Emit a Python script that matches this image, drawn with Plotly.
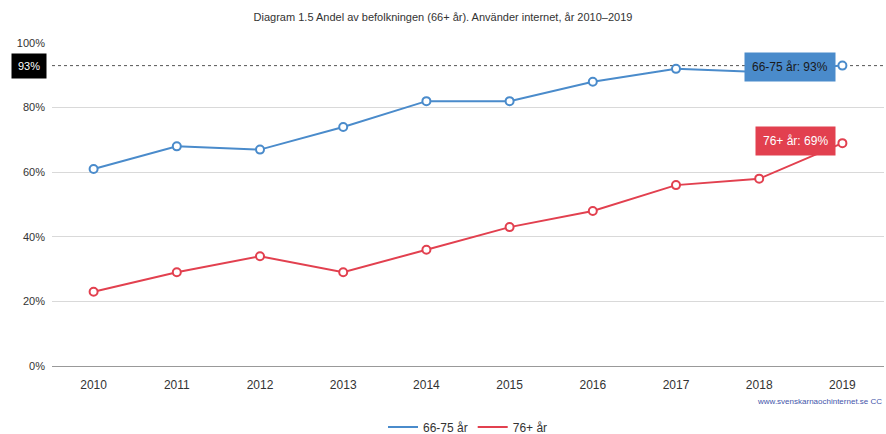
import plotly.graph_objects as go

years = ["2010", "2011", "2012", "2013", "2014", "2015", "2016", "2017", "2018", "2019"]
age_66_75 = [61, 68, 67, 74, 82, 82, 88, 92, 91, 93]
age_76_plus = [23, 29, 34, 29, 36, 43, 48, 56, 58, 69]
y_ticks = [0, 20, 40, 60, 80, 100]
y_tick_labels = ["0%", "20%", "40%", "60%", "80%", "100%"]

blue = "#4a8bcb"
red = "#e2404f"
font = "Liberation Sans, Arial, sans-serif"

fig = go.Figure()
for name, vals, col in [("66-75 år", age_66_75, blue), ("76+ år", age_76_plus, red)]:
    fig.add_trace(go.Scatter(
        x=years, y=vals, name=name, mode="lines", legendgroup=name,
        line=dict(color=col, width=2),
    ))
    fig.add_trace(go.Scatter(
        x=years, y=vals, name=name, mode="markers", legendgroup=name, showlegend=False,
        marker=dict(symbol="circle", size=8, color="white", line=dict(color=col, width=2)),
    ))

last = len(years) - 1

# crosshair line at latest 66-75 value
fig.add_shape(type="line", xref="paper", x0=0, x1=1, yref="y",
              y0=age_66_75[last], y1=age_66_75[last],
              line=dict(color="#555555", width=1, dash="dot"), layer="below")

fig.add_annotation(x=last, y=age_66_75[last], text="66-75 år: %d%%" % age_66_75[last],
                   showarrow=False, xanchor="right", xshift=-6, yshift=-1,
                   font=dict(family=font, size=12, color="#1a1a1a"),
                   bgcolor=blue, borderpad=7)
fig.add_annotation(x=last, y=age_76_plus[last], text="76+ år: %d%%" % age_76_plus[last],
                   showarrow=False, xanchor="right", xshift=-6, yshift=2,
                   font=dict(family=font, size=12, color="white"),
                   bgcolor=red, borderpad=7)
fig.add_annotation(xref="paper", x=0, y=age_66_75[last], text="%d%%" % age_66_75[last],
                   showarrow=False, xanchor="right", xshift=-5,
                   font=dict(family=font, size=11, color="white"),
                   bgcolor="black", borderpad=6)
fig.add_annotation(xref="paper", yref="paper", x=1.0, y=-0.13, xanchor="right",
                   text="www.svenskarnaochinternet.se CC", showarrow=False,
                   font=dict(family=font, size=8, color="#4455aa"))

fig.update_layout(
    width=886, height=434,
    paper_bgcolor="white", plot_bgcolor="white",
    margin=dict(l=52, r=2, t=43, b=68, autoexpand=False),
    title=dict(text="Diagram 1.5 Andel av befolkningen (66+ år). Använder internet, år 2010–2019",
               x=0.5, xanchor="center", y=1 - 17 / 434, yanchor="middle",
               font=dict(family=font, size=11, color="#333333")),
    font=dict(family=font, size=12, color="#333333"),
    showlegend=True,
    legend=dict(orientation="h", x=0.5, xanchor="center", yref="container",
                y=1 - 427 / 434, yanchor="middle", itemwidth=30,
                font=dict(family=font, size=12, color="#333333")),
    xaxis=dict(type="category", range=[-0.5, 9.5], showgrid=False, automargin=False,
               showline=True, linecolor="#999999", linewidth=1,
               ticks="", ticklabelstandoff=8, tickfont=dict(size=12, color="#333333")),
    yaxis=dict(range=[0, 100], tickvals=y_ticks, ticktext=y_tick_labels, automargin=False,
               showgrid=True, gridcolor="#d9d9d9", gridwidth=1,
               zeroline=False, ticks="", ticklabelstandoff=6,
               tickfont=dict(size=11, color="#333333")),
)

fig.write_html("out.html", config={"displayModeBar": False},
               post_script="document.body.style.margin='0';document.body.style.overflow='hidden';")
